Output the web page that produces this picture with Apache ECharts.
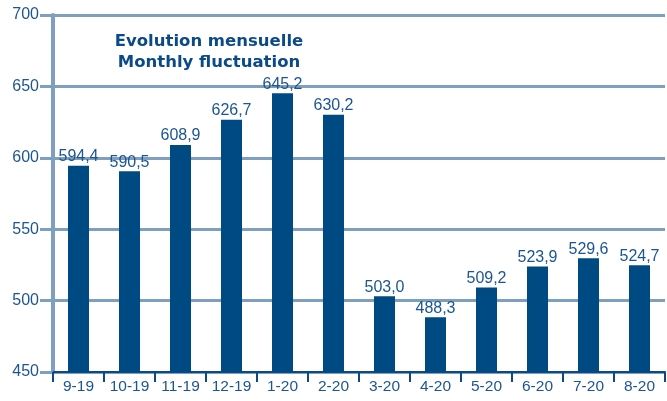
<!DOCTYPE html>
<html>
<head>
<meta charset="utf-8">
<script src="https://cdn.jsdelivr.net/npm/echarts@6/dist/echarts.min.js"></script>
<style>
  html, body { margin: 0; padding: 0; background: #fff; }
  #chart { width: 667px; height: 401px; }
</style>
</head>
<body>
<div id="chart"></div>
<script>
const months = ['9-19', '10-19', '11-19', '12-19', '1-20', '2-20', '3-20', '4-20', '5-20', '6-20', '7-20', '8-20']
const values = [594.4, 590.5, 608.9, 626.7, 645.2, 630.2, 503.0, 488.3, 509.2, 523.9, 529.6, 524.7]
const titleLines = ['Evolution mensuelle', 'Monthly fluctuation']

const gridColor = '#7f9fbf'
const textColor = '#1c5593'
const barColor = '#004a84'

const myChart = echarts.init(document.getElementById('chart'))
myChart.setOption({
  animation: false,
  title: {
    text: titleLines.join('\n'),
    left: 204,
    top: 26,
    textAlign: 'center',
    textStyle: {
      color: '#0b4a88',
      fontFamily: 'DejaVu Sans',
      fontWeight: 'bold',
      fontSize: 16.5,
      lineHeight: 21
    }
  },
  grid: { left: 53, right: 2, top: 15, bottom: 29 },
  xAxis: {
    type: 'category',
    data: months,
    axisLine: { lineStyle: { color: '#0d4a85', width: 2 } },
    axisTick: { show: true, interval: 0, length: 10, lineStyle: { color: '#0d4a85', width: 2 } },
    axisLabel: { interval: 0, hideOverlap: false, color: textColor, fontSize: 15.5, fontFamily: 'Liberation Sans', margin: 7 }
  },
  yAxis: {
    type: 'value',
    min: 450,
    max: 700,
    interval: 50,
    axisLine: { show: true, lineStyle: { color: gridColor, width: 4 } },
    axisTick: { show: true, length: 13, lineStyle: { color: gridColor, width: 3 } },
    splitLine: { lineStyle: { color: gridColor, width: 3 } },
    axisLabel: { color: textColor, fontSize: 16, fontFamily: 'Liberation Sans', margin: 14 }
  },
  series: [{
    type: 'bar',
    data: values,
    barWidth: 21,
    itemStyle: { color: barColor },
    label: {
      show: true,
      position: 'top',
      distance: 1,
      color: textColor,
      fontSize: 16,
      fontFamily: 'Liberation Sans',
      formatter: p => p.value.toFixed(1).replace('.', ',')
    }
  }]
})
</script>
</body>
</html>
